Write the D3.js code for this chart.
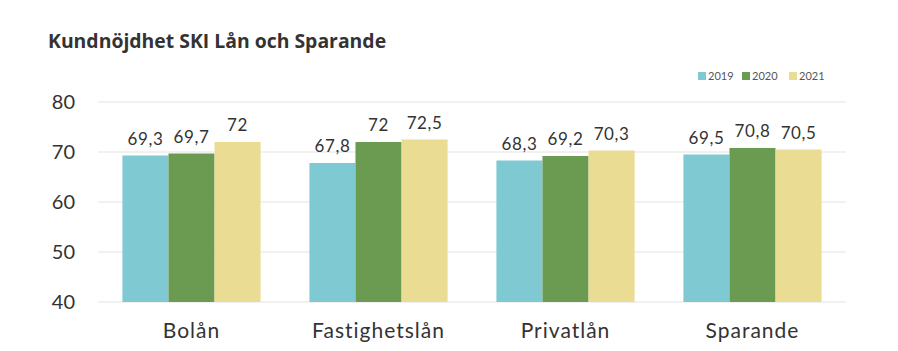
<!DOCTYPE html>
<html>
<head>
<meta charset="utf-8">
<script src="https://cdn.jsdelivr.net/npm/d3@7"></script>
<style>
  body { margin: 0; background: #fff; }
  svg { display: block; }
  .title { font-family: "Open Sans", sans-serif; font-weight: 700; font-size: 19.4px; fill: #333; }
  .tick text { font-family: Lato, sans-serif; }
</style>
</head>
<body>
<div id="wrapper"></div>
<script>
// data
const categories = ["Bolån", "Fastighetslån", "Privatlån", "Sparande"]
const years = ["2019", "2020", "2021"]
const values2019 = [69.3, 67.8, 68.3, 69.5]
const values2020 = [69.7, 72, 69.2, 70.8]
const values2021 = [72, 72.5, 70.3, 70.5]
const yTicks = [40, 50, 60, 70, 80]
const colors = ["#7fc9d3", "#6b9b51", "#ebdc93"]

const series = [values2019, values2020, values2021]

const dimensions = {
  width: 898,
  height: 351,
  margin: { top: 102, right: 52, bottom: 49, left: 98 },
}
dimensions.boundedWidth = dimensions.width - dimensions.margin.left - dimensions.margin.right
dimensions.boundedHeight = dimensions.height - dimensions.margin.top - dimensions.margin.bottom

const svg = d3.select("#wrapper").append("svg")
    .attr("width", dimensions.width)
    .attr("height", dimensions.height)

svg.append("text")
    .attr("class", "title")
    .attr("x", 48)
    .attr("y", 48)
    .text("Kundnöjdhet SKI Lån och Sparande")

const bounds = svg.append("g")
    .attr("transform", `translate(${dimensions.margin.left},${dimensions.margin.top})`)

// scales
const x0 = d3.scaleBand()
    .domain(categories)
    .range([0, dimensions.boundedWidth])

const x1 = d3.scaleBand()
    .domain(years)
    .range([0, x0.bandwidth()])
    .paddingOuter(0.53)

const y = d3.scaleLinear()
    .domain([40, 80])
    .range([dimensions.boundedHeight, 0])

// grid
bounds.append("g")
  .selectAll("line")
  .data(yTicks)
  .join("line")
    .attr("x1", 0)
    .attr("x2", dimensions.boundedWidth)
    .attr("y1", d => y(d))
    .attr("y2", d => y(d))
    .attr("stroke", "#e3e3e3")
    .attr("stroke-width", 1)

// y axis
const yAxis = bounds.append("g")
    .call(d3.axisLeft(y).tickValues(yTicks).tickSize(0).tickPadding(23))
yAxis.select(".domain").remove()
yAxis.selectAll("text")
    .attr("font-size", 20)
    .attr("fill", "#333")

// bars
const fmt = d3.formatLocale({ decimal: ",", thousands: " ", grouping: [3], currency: ["", ""] }).format("~g")

const groups = bounds.selectAll(".group")
  .data(categories)
  .join("g")
    .attr("transform", d => `translate(${x0(d)},0)`)

years.forEach((year, si) => {
  groups.append("rect")
      .attr("x", x1(year))
      .attr("width", x1.bandwidth())
      .attr("y", (d, i) => y(series[si][i]))
      .attr("height", (d, i) => y(40) - y(series[si][i]))
      .attr("fill", colors[si])

  groups.append("text")
      .attr("x", x1(year) + x1.bandwidth() / 2)
      .attr("y", (d, i) => y(series[si][i]) - 11)
      .attr("text-anchor", "middle")
      .attr("font-family", "Lato, sans-serif")
      .attr("font-size", 17)
      .attr("letter-spacing", 0.6)
      .attr("fill", "#333")
      .text((d, i) => fmt(series[si][i]))
})

// x axis
const xAxis = bounds.append("g")
    .attr("transform", `translate(0,${dimensions.boundedHeight})`)
    .call(d3.axisBottom(x0).tickSize(0).tickPadding(21))
xAxis.select(".domain").remove()
xAxis.selectAll("text")
    .attr("font-size", 21)
    .attr("letter-spacing", 1)
    .attr("fill", "#333")

// legend
const legend = svg.append("g")
    .attr("transform", "translate(698,76)")
const legendOffsets = [0, 44, 91]
years.forEach((year, i) => {
  const item = legend.append("g").attr("transform", `translate(${legendOffsets[i]},0)`)
  item.append("rect")
      .attr("x", 0).attr("y", -4)
      .attr("width", 8).attr("height", 8)
      .attr("fill", colors[i])
  item.append("text")
      .attr("x", 10)
      .attr("dy", "0.35em")
      .attr("font-family", "Lato, sans-serif")
      .attr("font-size", 11)
      .attr("fill", "#555")
      .text(year)
})
</script>
</body>
</html>
